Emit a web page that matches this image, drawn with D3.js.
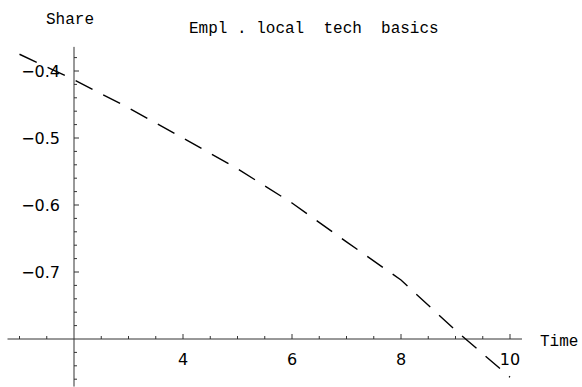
<!DOCTYPE html>
<html>
<head>
<meta charset="utf-8">
<script src="https://cdn.jsdelivr.net/npm/d3@7"></script>
<style>
  body { margin: 0; background: #fff; }
  .tick-label { font-family: "DejaVu Sans", sans-serif; font-size: 16px; fill: #000; }
  .mono { font-family: "Liberation Mono", monospace; font-size: 16px; fill: #000; }
</style>
</head>
<body>
<svg id="chart" width="582" height="387"></svg>
<script>
//Data
var times = [1, 2, 3, 4, 5, 6, 7, 8, 9, 10];
var shares = [-0.375, -0.413, -0.455, -0.500, -0.546, -0.597, -0.655, -0.712, -0.787, -0.857];
var xTickValues = [4, 6, 8, 10];
var yTickValues = [-0.4, -0.5, -0.6, -0.7];

var svg = d3.select("svg#chart");

//Axes cross at (2, -0.8) like the original plot
var x = d3.scaleLinear().domain([2, 10]).range([74, 510]);
var y = d3.scaleLinear().domain([-0.4, -0.8]).range([71, 339]);

var axisColor = "#333";
var originX = x(2), originY = y(-0.8);

//x axis line
svg.append("line")
  .attr("x1", x(0.78)).attr("x2", x(10.22))
  .attr("y1", originY).attr("y2", originY)
  .attr("stroke", axisColor).attr("stroke-width", 1);

//y axis line
svg.append("line")
  .attr("x1", originX).attr("x2", originX)
  .attr("y1", y(-0.364)).attr("y2", y(-0.871))
  .attr("stroke", axisColor).attr("stroke-width", 1);

//x ticks (minor every 0.5)
var xTicks = d3.range(1, 10.01, 0.5).filter(function (d) { return d != 2; });
svg.selectAll(".xtick").data(xTicks).enter().append("line")
  .attr("class", "xtick")
  .attr("x1", function (d) { return x(d); })
  .attr("x2", function (d) { return x(d); })
  .attr("y1", originY)
  .attr("y2", function (d) { return originY - (d % 2 == 0 ? 5 : 3); })
  .attr("stroke", axisColor).attr("stroke-width", 1);

//y ticks (minor every 0.02)
var yTicks = d3.range(-0.86, -0.365, 0.02).filter(function (d) { return Math.abs(d + 0.8) > 1e-6; });
svg.selectAll(".ytick").data(yTicks).enter().append("line")
  .attr("class", "ytick")
  .attr("x1", originX)
  .attr("x2", function (d) {
    var major = Math.abs(Math.round(d * 10) - d * 10) < 1e-6;
    return originX + (major ? 5 : 3);
  })
  .attr("y1", function (d) { return y(d); })
  .attr("y2", function (d) { return y(d); })
  .attr("stroke", axisColor).attr("stroke-width", 1);

//tick labels
svg.selectAll(".xlabel").data(xTickValues).enter().append("text")
  .attr("class", "tick-label")
  .attr("x", function (d) { return x(d); })
  .attr("y", 365)
  .attr("text-anchor", "middle")
  .text(function (d) { return d; });

svg.selectAll(".ylabel").data(yTickValues).enter().append("text")
  .attr("class", "tick-label")
  .attr("x", 60)
  .attr("y", function (d) { return y(d); })
  .attr("dy", "0.36em")
  .attr("text-anchor", "end")
  .text(function (d) { return "\u2212" + Math.abs(d).toFixed(1); });

//axis titles and plot title
svg.append("text").attr("class", "mono")
  .attr("x", 46).attr("y", 24).text("Share");
svg.append("text").attr("class", "mono")
  .attr("x", 540).attr("y", 346).text("Time");
svg.append("text").attr("class", "mono")
  .attr("x", 189).attr("y", 33)
  .attr("xml:space", "preserve")
  .style("white-space", "pre")
  .text("Empl . local  tech  basics");

//dashed data line
var line = d3.line()
  .x(function (d, i) { return x(times[i]); })
  .y(function (d) { return y(d); });

svg.append("path")
  .datum(shares)
  .attr("d", line)
  .attr("fill", "none")
  .attr("stroke", "#000")
  .attr("stroke-width", 1.4)
  .attr("stroke-dasharray", "19,12");
</script>
</body>
</html>
